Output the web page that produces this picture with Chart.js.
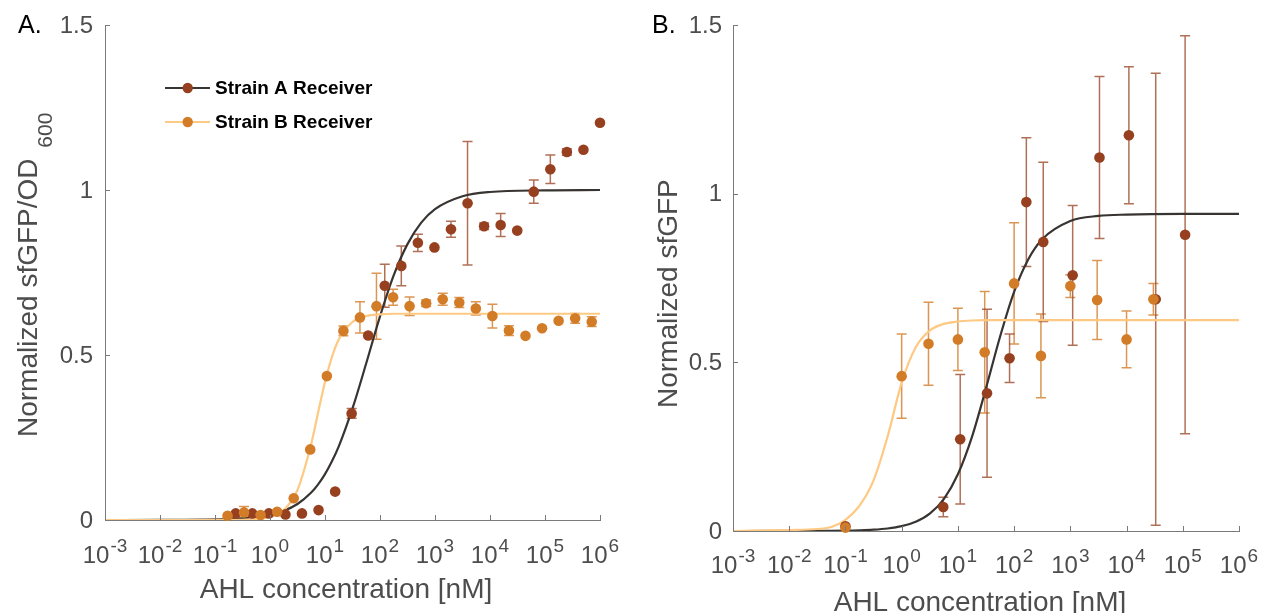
<!DOCTYPE html>
<html>
<head>
<meta charset="utf-8">
<script src="https://cdn.jsdelivr.net/npm/chart.js@4.4.1/dist/chart.umd.min.js"></script>
<style>
  html, body { margin: 0; padding: 0; background: #fff; }
  #wrap { position: relative; width: 1262px; height: 613px; }
  canvas { position: absolute; top: 0; }
</style>
</head>
<body>
<div id="wrap">
  <canvas id="chartA" width="631" height="613" style="left:0"></canvas>
  <canvas id="chartB" width="631" height="613" style="left:631px"></canvas>
</div>
<script>
// axis ticks
const xTickExps = [-3, -2, -1, 0, 1, 2, 3, 4, 5, 6];
const yTicks = [0, 0.5, 1, 1.5];
const yTickLabels = ['0', '0.5', '1', '1.5'];
const seriesNames = ['Strain A Receiver', 'Strain B Receiver'];

// Panel A - measured points
const aConcA = [0.238, 0.477, 0.954, 1.91, 3.81, 7.63, 15.3, 30.5, 61, 122, 244, 488, 977, 1953, 3906, 7812, 15625, 31250, 62500, 125000, 250000, 500000, 1000000];
const aRespA = [0.02, 0.02, 0.02, 0.017, 0.02, 0.03, 0.086, 0.323, 0.559, 0.71, 0.77, 0.84, 0.826, 0.881, 0.96, 0.89, 0.894, 0.877, 0.995, 1.063, 1.115, 1.122, 1.204];
const aErrA  = [0, 0, 0, 0, 0, 0, 0, 0.015, 0, 0.065, 0.06, 0.026, 0, 0.024, 0.187, 0.01, 0.035, 0, 0.035, 0.043, 0.01, 0, 0];

const aConcB = [0.169, 0.337, 0.674, 1.35, 2.70, 5.39, 10.8, 21.6, 43.2, 86.3, 173, 345, 690, 1381, 2762, 5524, 11050, 22100, 44190, 88390, 176800, 353600, 707000];
const aRespB = [0.013, 0.023, 0.015, 0.025, 0.066, 0.214, 0.436, 0.573, 0.614, 0.648, 0.675, 0.648, 0.657, 0.669, 0.659, 0.641, 0.618, 0.574, 0.558, 0.581, 0.604, 0.611, 0.601];
const aErrB  = [0, 0.018, 0, 0, 0, 0, 0, 0.015, 0.047, 0.1, 0.024, 0.028, 0.01, 0.018, 0.015, 0.02, 0.036, 0.015, 0, 0, 0, 0.015, 0.015];

// Panel A - fitted curves
const aFitConc = [0.001, 0.01, 0.1, 0.316, 1, 1.78, 3.16, 5.62, 7.5, 10, 13.3, 17.8, 31.6, 56.2, 100, 178, 316, 562, 1000, 3162, 10000, 100000, 1000000];
const aFitA = [0, 0.0002, 0.0016, 0.0051, 0.0159, 0.0279, 0.0485, 0.0831, 0.108, 0.139, 0.177, 0.223, 0.338, 0.475, 0.617, 0.742, 0.836, 0.901, 0.942, 0.981, 0.994, 0.999, 1.0];
const aFitB = [0, 0, 0.0001, 0.0008, 0.009, 0.03, 0.091, 0.231, 0.326, 0.418, 0.493, 0.547, 0.6, 0.618, 0.623, 0.625, 0.625, 0.625, 0.625, 0.625, 0.625, 0.625, 0.625];

// Panel B - measured points
const bConcA = [0.1, 5.5, 11, 33, 83, 165, 330, 1100, 3300, 11000, 33000, 110000];
const bRespA = [0.014, 0.071, 0.272, 0.408, 0.512, 0.975, 0.857, 0.758, 1.107, 1.173, 0.687, 0.878];
const bErrA  = [0, 0.029, 0.192, 0.249, 0.072, 0.191, 0.236, 0.207, 0.24, 0.203, 0.67, 0.59];

const bConcB = [0.1, 1, 3, 10, 30, 100, 300, 1000, 3000, 10000, 30000];
const bRespB = [0.010, 0.459, 0.555, 0.568, 0.53, 0.734, 0.519, 0.726, 0.685, 0.568, 0.687];
const bErrB  = [0, 0.125, 0.123, 0.092, 0.18, 0.18, 0.124, 0.034, 0.117, 0.084, 0.047];

// Panel B - fitted curves
const bFitConc = [0.001, 0.01, 0.0316, 0.0562, 0.1, 0.178, 0.316, 0.562, 1, 1.78, 3.16, 5.62, 10, 17.8, 31.6, 56.2, 100, 178, 316, 1000, 3162, 10000, 100000, 1000000];
const bFitA = [0, 0.0001, 0.0003, 0.0005, 0.001, 0.002, 0.0038, 0.0074, 0.0143, 0.0273, 0.0514, 0.0947, 0.168, 0.279, 0.423, 0.576, 0.709, 0.805, 0.865, 0.919, 0.934, 0.938, 0.94, 0.94];
const bFitB = [0, 0.003, 0.006, 0.012, 0.033, 0.075, 0.15, 0.28, 0.44, 0.545, 0.594, 0.614, 0.621, 0.624, 0.625, 0.625, 0.625, 0.625, 0.625, 0.625, 0.625, 0.625, 0.625, 0.625];

const DARK = '#96401f';
const ORANGE = '#d27c28';
const DARK_ERR = 'rgba(150, 64, 31, 0.75)';
const ORANGE_ERR = 'rgba(210, 124, 40, 0.8)';
const FIT_DARK = '#373432';
const FIT_LIGHT = '#fdc983';
const FONT = '"Liberation Sans", Arial, Helvetica, sans-serif';

const toPoints = (xs, ys) => xs.map((x, i) => ({ x: x, y: ys[i] }));

// vertical error bars with caps, drawn under the markers
const errorBars = {
    id: 'errorBars',
    beforeDatasetsDraw(chart) {
        const ctx = chart.ctx;
        const ys = chart.scales.y;
        chart.data.datasets.forEach((ds, i) => {
            if (!ds.errors) return;
            const meta = chart.getDatasetMeta(i);
            ctx.save();
            ctx.strokeStyle = ds.errorColor;
            ctx.lineWidth = 1.5;
            meta.data.forEach((pt, j) => {
                const e = ds.errors[j];
                if (!e) return;
                const v = ds.data[j].y;
                const top = ys.getPixelForValue(v + e);
                const bot = ys.getPixelForValue(v - e);
                ctx.beginPath();
                ctx.moveTo(pt.x, top); ctx.lineTo(pt.x, bot);
                ctx.moveTo(pt.x - 5, top); ctx.lineTo(pt.x + 5, top);
                ctx.moveTo(pt.x - 5, bot); ctx.lineTo(pt.x + 5, bot);
                ctx.stroke();
            });
            ctx.restore();
        });
    }
};

// matlab-like axes: inward ticks, 10^n labels, titles, panel letter, legend
const axisDecor = {
    id: 'axisDecor',
    afterDraw(chart, args, opts) {
        const ctx = chart.ctx;
        const ca = chart.chartArea;
        const x = chart.scales.x, y = chart.scales.y;
        ctx.save();

        ctx.strokeStyle = '#7a7a7a';
        ctx.lineWidth = 1;
        ctx.beginPath();
        xTickExps.forEach(e => {
            const px = Math.round(x.getPixelForValue(Math.pow(10, e))) + 0.5;
            ctx.moveTo(px, ca.bottom); ctx.lineTo(px, ca.bottom - 5);
        });
        yTicks.forEach(v => {
            const py = Math.round(y.getPixelForValue(v)) + 0.5;
            ctx.moveTo(ca.left, py); ctx.lineTo(ca.left + 5, py);
        });
        ctx.stroke();

        ctx.fillStyle = '#4d4d4d';
        ctx.textBaseline = 'alphabetic';
        ctx.textAlign = 'left';
        xTickExps.forEach(e => {
            const sup = String(e);
            ctx.font = '24px ' + FONT;
            const wb = ctx.measureText('10').width;
            ctx.font = '19px ' + FONT;
            const ws = ctx.measureText(sup).width;
            const left = x.getPixelForValue(Math.pow(10, e)) - (wb + ws + 1) / 2;
            ctx.font = '24px ' + FONT;
            ctx.fillText('10', left, opts.xTickBase);
            ctx.font = '19px ' + FONT;
            ctx.fillText(sup, left + wb + 1, opts.xTickBase - 11);
        });

        ctx.font = '24px ' + FONT;
        ctx.textAlign = 'right';
        ctx.textBaseline = 'middle';
        yTicks.forEach((v, i) => {
            ctx.fillText(yTickLabels[i], ca.left - opts.yTickGap, y.getPixelForValue(v) + 1);
        });

        // x title
        ctx.font = '28px ' + FONT;
        ctx.textAlign = 'center';
        ctx.textBaseline = 'alphabetic';
        ctx.fillText('AHL concentration [nM]', opts.xTitleX, opts.xTitleBase);

        // y title (rotated), optional subscript
        ctx.save();
        ctx.translate(opts.yTitleBase, opts.yTitleStart);
        ctx.rotate(-Math.PI / 2);
        ctx.textAlign = 'left';
        ctx.font = '28px ' + FONT;
        ctx.fillText(opts.yTitle, 0, 0);
        if (opts.yTitleSub) {
            const w = ctx.measureText(opts.yTitle + ' ').width;
            ctx.font = '21px ' + FONT;
            ctx.fillText(opts.yTitleSub, w + 3, 15);
        }
        ctx.restore();

        // panel letter
        ctx.fillStyle = '#000';
        ctx.font = '25px ' + FONT;
        ctx.textAlign = 'left';
        ctx.fillText(opts.panel, opts.panelX, 33);

        if (opts.legend) {
            const rows = [
                { line: FIT_DARK, dot: DARK, y: 88 },
                { line: FIT_LIGHT, dot: ORANGE, y: 122 }
            ];
            rows.forEach((r, i) => {
                ctx.strokeStyle = r.line;
                ctx.lineWidth = 2.2;
                ctx.beginPath();
                ctx.moveTo(165, r.y); ctx.lineTo(210, r.y);
                ctx.stroke();
                ctx.fillStyle = r.dot;
                ctx.beginPath();
                ctx.arc(187.7, r.y, 5.2, 0, Math.PI * 2);
                ctx.fill();
                ctx.fillStyle = '#000';
                ctx.font = 'bold 19px ' + FONT;
                ctx.textBaseline = 'middle';
                ctx.fillText(seriesNames[i], 215, r.y + 1);
            });
        }
        ctx.restore();
    }
};

const makeChart = (canvasId, p) => {
    const ctx = document.getElementById(canvasId).getContext('2d');
    return new Chart(ctx, {
        type: 'scatter',
        data: {
            datasets: [
                {
                    label: seriesNames[1],
                    data: toPoints(p.concB, p.respB),
                    errors: p.errB,
                    errorColor: ORANGE_ERR,
                    backgroundColor: ORANGE,
                    borderWidth: 0,
                    pointRadius: 5.3,
                    clip: false
                },
                {
                    label: seriesNames[0],
                    data: toPoints(p.concA, p.respA),
                    errors: p.errA,
                    errorColor: DARK_ERR,
                    backgroundColor: DARK,
                    borderWidth: 0,
                    pointRadius: 5.3,
                    clip: false
                },
                {
                    label: 'fit B',
                    data: toPoints(p.fitConc, p.fitB),
                    showLine: true,
                    borderColor: FIT_LIGHT,
                    borderWidth: 2.2,
                    pointRadius: 0,
                    cubicInterpolationMode: 'monotone'
                },
                {
                    label: 'fit A',
                    data: toPoints(p.fitConc, p.fitA),
                    showLine: true,
                    borderColor: FIT_DARK,
                    borderWidth: 2.2,
                    pointRadius: 0,
                    cubicInterpolationMode: 'monotone'
                }
            ]
        },
        options: {
            responsive: false,
            animation: false,
            events: [],
            layout: { padding: { left: 0, right: p.padRight, top: 25, bottom: 0 } },
            plugins: {
                legend: { display: false },
                tooltip: { enabled: false },
                axisDecor: p.decor
            },
            scales: {
                x: {
                    type: 'logarithmic',
                    min: 0.001,
                    max: 1000000,
                    grid: { display: false },
                    border: { display: true, color: '#7a7a7a', width: 1 },
                    ticks: { display: false },
                    afterFit: s => { s.height = p.xAxisH; }
                },
                y: {
                    type: 'linear',
                    min: 0,
                    max: 1.5,
                    grid: { display: false },
                    border: { display: true, color: '#7a7a7a', width: 1 },
                    ticks: { display: false },
                    afterFit: s => { s.width = p.yAxisW; }
                }
            }
        },
        plugins: [errorBars, axisDecor]
    });
};

makeChart('chartA', {
    concA: aConcA, respA: aRespA, errA: aErrA,
    concB: aConcB, respB: aRespB, errB: aErrB,
    fitConc: aFitConc, fitA: aFitA, fitB: aFitB,
    padRight: 31, xAxisH: 93, yAxisW: 105,
    decor: {
        panel: 'A.', panelX: 18, legend: true,
        xTickBase: 563, yTickGap: 12,
        xTitleX: 346, xTitleBase: 598,
        yTitle: 'Normalized sfGFP/OD', yTitleSub: '600',
        yTitleBase: 37, yTitleStart: 437
    }
});

makeChart('chartB', {
    concA: bConcA, respA: bRespA, errA: bErrA,
    concB: bConcB, respB: bRespB, errB: bErrB,
    fitConc: bFitConc, fitA: bFitA, fitB: bFitB,
    padRight: 23, xAxisH: 82, yAxisW: 102,
    decor: {
        panel: 'B.', panelX: 21, legend: false,
        xTickBase: 573, yTickGap: 11,
        xTitleX: 349, xTitleBase: 611,
        yTitle: 'Normalized sfGFP', yTitleSub: null,
        yTitleBase: 46, yTitleStart: 408
    }
});
</script>
</body>
</html>
